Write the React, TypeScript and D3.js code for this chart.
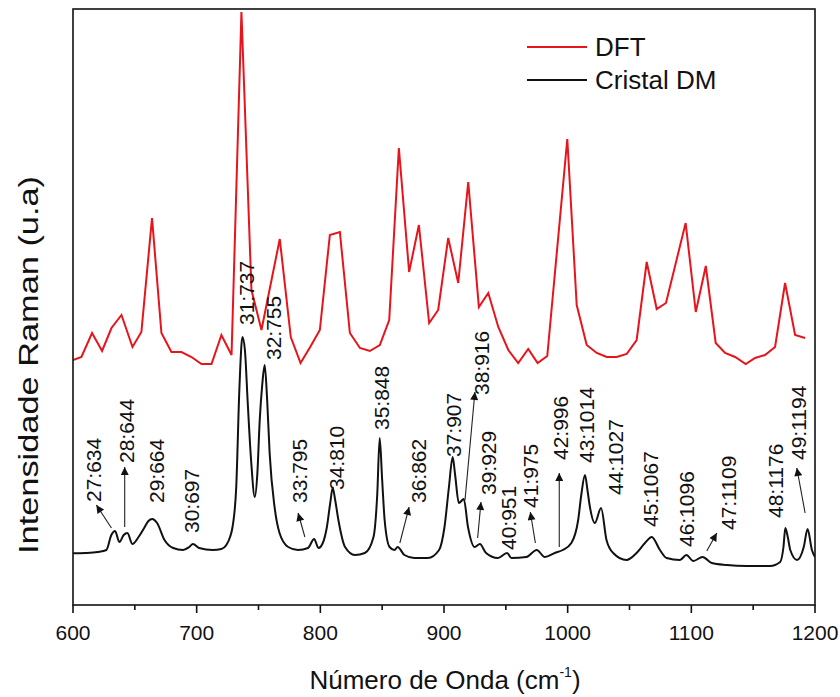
import React from 'react';
import * as d3 from 'd3';

// ---- DFT (red) spectrum ----
const dftWavenumber = [600, 606.8, 615.4, 623.5, 631.1, 639.2, 648.1, 655.3, 663.9, 671.5, 679.6, 687.7, 695.8, 703.9, 712, 720, 728.2, 736.2, 744.3, 752.4, 767.2, 776.1, 784, 791.8, 799.6, 807.7, 815.8, 823.9, 832, 840, 848.1, 855.7, 863.5, 871.8, 879.7, 888, 895.3, 903.4, 911.5, 919.6, 928.2, 935.8, 943.9, 952, 960, 968.1, 975.7, 983.5, 999.7, 1007.3, 1015.4, 1023.5, 1031.6, 1039.6, 1047.7, 1055.8, 1063.9, 1072, 1079.5, 1095.4, 1103.6, 1111.7, 1119.7, 1127.3, 1135.4, 1144, 1151.5, 1159.6, 1167.7, 1175.8, 1183.9, 1192];
const dftIntensity = [245, 248, 272, 254, 277, 290, 258, 273, 387, 272, 253, 253, 248, 241, 241, 270, 250, 593, 315, 275, 366, 268, 242, 258, 275, 370, 373, 272, 257, 254, 260, 285, 457, 333, 380, 282, 295, 367, 322, 423, 298, 312, 278, 255, 242, 256, 242, 249, 466, 300, 260, 252, 248, 248, 251, 265, 343, 296, 302, 382, 293, 339, 262, 252, 248, 241, 247, 250, 258, 322, 270, 267];

// ---- Cristal DM (black) spectrum ----
const crystalWavenumber = [600, 610, 620, 627, 631, 634, 637.5, 641, 644, 648, 653, 658, 661, 664, 668, 674, 681, 689, 694, 697, 702, 713, 720, 724, 727, 729, 732, 734.6, 737, 739, 741.3, 744, 747, 749, 751, 753, 755, 757, 759, 763, 767, 774, 782, 790, 795, 798.5, 802, 805.3, 808, 810, 812, 814.6, 820, 828, 836, 843, 846, 848, 850, 852, 856, 860, 862.5, 868, 876, 887, 896, 900.4, 904, 907, 909, 912, 916, 919.4, 924.8, 929, 934, 943.6, 951, 954.5, 966.6, 975, 981.5, 989.6, 996, 1003, 1008.5, 1011, 1014, 1016, 1018, 1022, 1027, 1031.4, 1036.8, 1047.6, 1055.7, 1062.5, 1068, 1074.6, 1080, 1090.8, 1096, 1101.6, 1109, 1116.5, 1128.6, 1144.8, 1163.7, 1171.8, 1174.5, 1176, 1178, 1180, 1185.5, 1190.9, 1194, 1197.5, 1200];
const crystalIntensity = [51.7, 52, 53, 55, 70, 74, 63, 70, 72, 61, 68, 78, 84, 86, 82, 65, 57, 55, 58, 61, 57, 55, 56, 60, 68, 78, 118, 218, 268, 255, 202, 145, 108, 130, 185, 220, 240, 205, 152, 98, 72, 58, 55, 57, 66, 57, 62, 78, 102, 117, 105, 85, 58, 50, 52, 68, 110, 167, 125, 85, 58, 55, 58, 50, 47, 47, 55, 78, 118, 148, 130, 102, 106, 78, 58, 61, 52, 47, 52, 47, 48, 55, 48, 52, 55, 62, 85, 110, 130, 115, 98, 82, 97, 65, 52, 45, 52, 62, 68, 55, 47, 45, 50, 44, 48, 42, 40, 39, 39, 43, 58, 77, 68, 55, 45, 58, 76, 55, 48];

// ---- peak annotations (label text, label centre wavenumber, label base intensity) ----
const peakLabels = ['27:634', '28:644', '29:664', '30:697', '31:737', '32:755', '33:795', '34:810', '35:848', '36:862', '37:907', '38:916', '39:929', '40:951', '41:975', '42:996', '43:1014', '44:1027', '45:1067', '46:1096', '47:1109', '48:1176', '49:1194'];
const labelWavenumber = [616.2, 643.2, 667.5, 695.8, 740.3, 761.8, 783.4, 813.1, 849.5, 879.1, 908, 930.4, 935.8, 951.9, 969.5, 994.3, 1015.4, 1038.3, 1066.6, 1095.7, 1129.9, 1167.7, 1186.6];
const labelBase = [103, 142, 102, 72, 280, 245, 102, 115, 175, 102, 148, 210, 110, 55, 97, 145, 142, 110, 78, 58, 75, 87, 145];

// ---- arrows: [from wavenumber, from intensity, to wavenumber, to intensity] ----
const arrows: [number, number, number, number][] = [
  [631.1, 77, 618.9, 100],
  [641.8, 78, 641.8, 138],
  [787.5, 68, 782, 92],
  [864.3, 62, 871.8, 98],
  [917, 105, 925, 213],
  [927.2, 67, 929.9, 103],
  [973.9, 62, 969.8, 93],
  [993.2, 58, 993.2, 132],
  [1112.5, 54, 1120.6, 72],
  [1192, 92, 1185.3, 137],
];

const xTicks = [600, 700, 800, 900, 1000, 1100, 1200];
const xMinorTicks = [650, 750, 850, 950, 1050, 1150];

const legendItems = ['DFT', 'Cristal DM'];
const seriesColors = ['#e8141c', '#111111'];

const FONT = '"Liberation Sans", Arial, Helvetica, sans-serif';

export default function App() {
  const left = 73, right = 815, top = 9, bottom = 605;
  const x = d3.scaleLinear().domain([600, 1200]).range([left, right]);
  const y = d3.scaleLinear().domain([0, 596]).range([bottom, top]);

  const dftData: [number, number][] = dftWavenumber.map((w, i) => [w, dftIntensity[i]]);
  const crystalData: [number, number][] = crystalWavenumber.map((w, i) => [w, crystalIntensity[i]]);

  const redLine = d3.line<[number, number]>().x(d => x(d[0])).y(d => y(d[1])).curve(d3.curveLinear);
  const blackLine = d3.line<[number, number]>().x(d => x(d[0])).y(d => y(d[1])).curve(d3.curveMonotoneX);

  return (
    <svg width={840} height={697} style={{ position: 'absolute', left: 0, top: 0, background: '#fff' }} fontFamily={FONT}>
      <defs>
        <marker id="ah" viewBox="0 0 10 10" refX="10" refY="5" markerUnits="userSpaceOnUse" markerWidth="11" markerHeight="8" orient="auto">
          <path d="M0,0 L10,5 L0,10 z" fill="#111" />
        </marker>
        <clipPath id="plotclip">
          <rect x={left} y={top} width={right - left} height={bottom - top} />
        </clipPath>
      </defs>
      <rect x={0} y={0} width={840} height={697} fill="#fff" />

      <g clipPath="url(#plotclip)">
        <path d={redLine(dftData) || ''} fill="none" stroke={seriesColors[0]} strokeWidth={2} strokeLinejoin="miter" />
        <path d={blackLine(crystalData) || ''} fill="none" stroke={seriesColors[1]} strokeWidth={2} />
      </g>

      {/* arrows */}
      {arrows.map((a, i) => (
        <line key={'ar' + i} x1={x(a[0])} y1={y(a[1])} x2={x(a[2])} y2={y(a[3])} stroke="#222" strokeWidth={1.1} markerEnd="url(#ah)" />
      ))}

      {/* peak labels */}
      {peakLabels.map((t, i) => {
        const cx = x(labelWavenumber[i]);
        const cy = y(labelBase[i]);
        return (
          <text key={'pl' + i} transform={`translate(${cx},${cy}) rotate(-90)`} dy="0.36em" fontSize={21} fill="#111" textAnchor="start">{t}</text>
        );
      })}

      {/* frame */}
      <rect x={left} y={top} width={right - left} height={bottom - top} fill="none" stroke="#111" strokeWidth={1.6} />

      {/* x ticks */}
      {xTicks.map(t => (
        <g key={'t' + t}>
          <line x1={x(t)} x2={x(t)} y1={bottom} y2={bottom + 8} stroke="#111" strokeWidth={1.6} />
          <text x={x(t)} y={bottom + 35} fontSize={21} textAnchor="middle" fill="#111">{t}</text>
        </g>
      ))}
      {xMinorTicks.map(t => (
        <line key={'m' + t} x1={x(t)} x2={x(t)} y1={bottom} y2={bottom + 5} stroke="#111" strokeWidth={1.6} />
      ))}

      {/* axis titles */}
      <text x={445} y={689} fontSize={26} textAnchor="middle" fill="#111">
        Número de Onda (cm<tspan fontSize={14} dy={-12}>-1</tspan><tspan dy={12}>)</tspan>
      </text>
      <text transform={`translate(38,365) rotate(-90)`} fontSize={27} textAnchor="middle" fill="#111" textLength={378} lengthAdjust="spacingAndGlyphs">
        Intensidade Raman (u.a)
      </text>

      {/* legend */}
      {legendItems.map((name, i) => (
        <g key={'lg' + i}>
          <line x1={527} x2={587} y1={47 + i * 33} y2={47 + i * 33} stroke={seriesColors[i]} strokeWidth={2} />
          <text x={595} y={47 + i * 33} dy="0.36em" fontSize={26} fill="#111">{name}</text>
        </g>
      ))}
    </svg>
  );
}
